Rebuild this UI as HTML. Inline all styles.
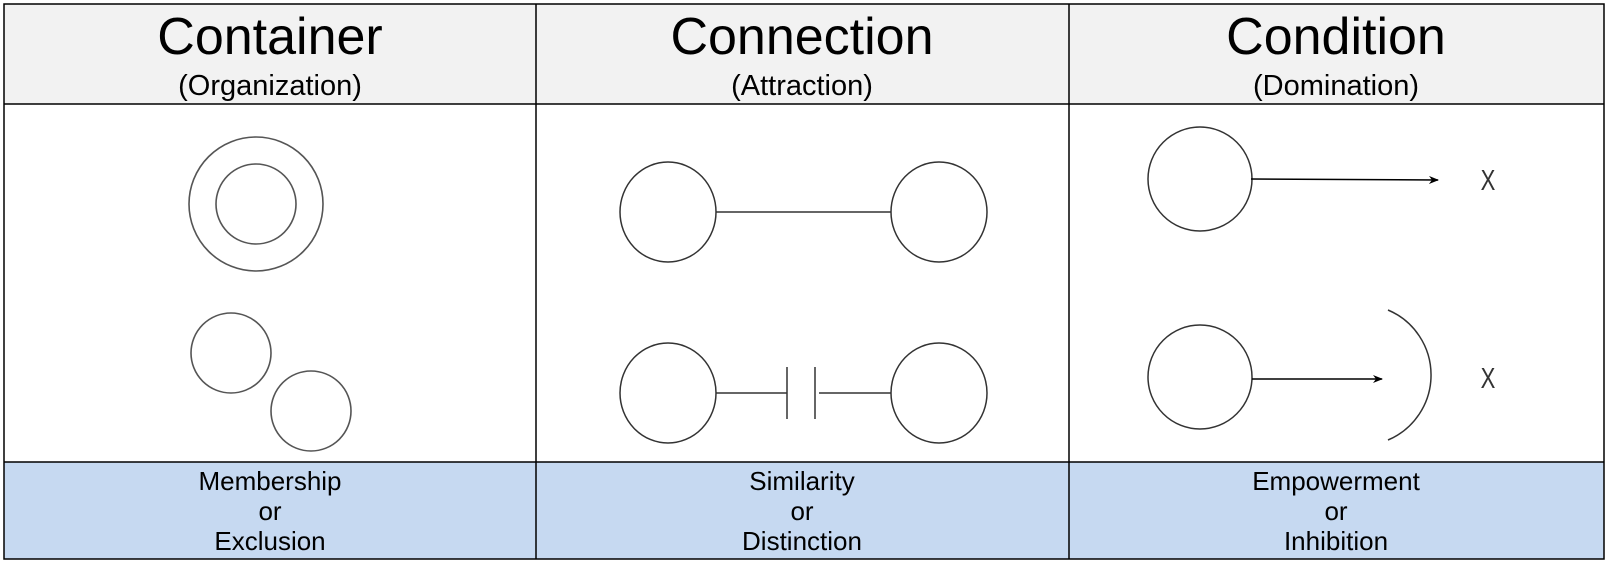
<!DOCTYPE html>
<html><head><style>
html,body{margin:0;padding:0;background:#fff;}
svg{display:block;font-family:"Liberation Sans",Arial,sans-serif;}
</style></head><body>
<svg width="1606" height="563" viewBox="0 0 1606 563" xmlns="http://www.w3.org/2000/svg">
<defs>
<marker id="ah" markerWidth="10" markerHeight="8" refX="9" refY="4" orient="auto" markerUnits="userSpaceOnUse">
<path d="M0,0 L10,4 L0,8 L3,4 Z" fill="#000"/>
</marker>
</defs>
<rect x="4" y="4" width="1600" height="100" fill="#f2f2f2"/>
<rect x="4" y="462" width="1600" height="97" fill="#c6d9f1"/>
<g stroke="#000" stroke-width="1.5" fill="none">
<rect x="4" y="4" width="1600" height="555"/>
<line x1="4" y1="104" x2="1604" y2="104"/>
<line x1="4" y1="462" x2="1604" y2="462"/>
<line x1="536" y1="4" x2="536" y2="559"/>
<line x1="1069" y1="4" x2="1069" y2="559"/>
</g>
<g text-anchor="middle" fill="#000">
<text x="270" y="54" font-size="52">Container</text>
<text x="270" y="95" font-size="29">(Organization)</text>
<text x="802" y="54" font-size="52">Connection</text>
<text x="802" y="95" font-size="29">(Attraction)</text>
<text x="1336" y="54" font-size="52">Condition</text>
<text x="1336" y="95" font-size="29">(Domination)</text>
<g font-size="26">
<text x="270" y="490">Membership</text>
<text x="270" y="520">or</text>
<text x="270" y="550">Exclusion</text>
<text x="802" y="490">Similarity</text>
<text x="802" y="520">or</text>
<text x="802" y="550">Distinction</text>
<text x="1336" y="490">Empowerment</text>
<text x="1336" y="520">or</text>
<text x="1336" y="550">Inhibition</text>
</g>
</g>
<g stroke="#555" stroke-width="1.6" fill="none">
<circle cx="256" cy="204" r="67"/>
<circle cx="256" cy="204" r="40"/>
<circle cx="231" cy="353" r="40"/>
<circle cx="311" cy="411" r="40"/>
</g>
<g stroke="#333" stroke-width="1.5" fill="none">
<ellipse cx="668" cy="212" rx="48" ry="50"/>
<ellipse cx="939" cy="212" rx="48" ry="50"/>
<line x1="716" y1="212" x2="891" y2="212"/>
<ellipse cx="668" cy="393" rx="48" ry="50"/>
<ellipse cx="939" cy="393" rx="48" ry="50"/>
<line x1="716" y1="393" x2="787" y2="393"/>
<line x1="819" y1="393" x2="891" y2="393"/>
<line x1="787" y1="367" x2="787" y2="419"/>
<line x1="815" y1="367" x2="815" y2="419"/>
<circle cx="1200" cy="179" r="52"/>
<line x1="1251" y1="179" x2="1438" y2="180" stroke="#000" marker-end="url(#ah)"/>
<circle cx="1200" cy="377" r="52"/>
<line x1="1252" y1="379" x2="1382" y2="379" stroke="#000" marker-end="url(#ah)"/>
<path d="M1388,310 A70.6,70.6 0 0 1 1388,440"/>
</g>
<g text-anchor="middle" font-size="26" fill="#333">
<text x="1488" y="189" transform="translate(1488 180) scale(0.85 1.1) translate(-1488 -180)">X</text>
<text x="1488" y="387" transform="translate(1488 378) scale(0.85 1.1) translate(-1488 -378)">X</text>
</g>
</svg>
</body></html>
